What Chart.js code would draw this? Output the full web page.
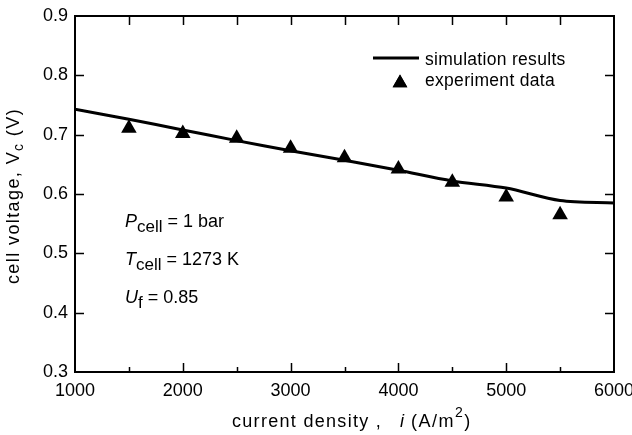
<!DOCTYPE html>
<html>
<head>
<meta charset="utf-8">
<script src="https://cdn.jsdelivr.net/npm/chart.js@4"></script>
<style>
  html, body { margin: 0; padding: 0; background: #fff; }
  #wrap { width: 632px; height: 435px; }
</style>
</head>
<body>
<div id="wrap"><canvas id="cellChart"></canvas></div>
<script>
// values
const simCurrent = [1000, 1500, 2000, 2500, 3000, 3500, 4000, 4500, 5000, 5500, 6000];
const simVoltage = [0.743, 0.726, 0.708, 0.690, 0.673, 0.657, 0.640, 0.622, 0.610, 0.589, 0.585];
const expCurrent = [1500, 2000, 2500, 3000, 3500, 4000, 4500, 5000, 5500];
const expVoltage = [0.711, 0.702, 0.694, 0.677, 0.661, 0.642, 0.620, 0.595, 0.565];
const xMinorTicks = [1500, 2000, 2500, 3000, 3500, 4000, 4500, 5000, 5500];
const yTicks = [0.4, 0.5, 0.6, 0.7, 0.8];

const FONT = '"Liberation Sans", Arial, sans-serif';

function spacedText(ctx, text, x, y, sp) {
  for (const ch of text) {
    ctx.fillText(ch, x, y);
    x += ctx.measureText(ch).width + sp;
  }
  return x;
}

function spacedWidth(ctx, text, sp) {
  let w = 0;
  for (const ch of text) w += ctx.measureText(ch).width + sp;
  return w;
}

// frame, inward ticks, legend, annotations and axis titles
const decorations = {
  id: "decorations",
  afterDraw(chart) {
    const { ctx, chartArea: a } = chart;
    const x = chart.scales.x;
    const y = chart.scales.y;
    ctx.save();
    ctx.strokeStyle = "#000";
    ctx.fillStyle = "#000";
    ctx.lineWidth = 2;
    ctx.strokeRect(a.left, a.top, a.right - a.left, a.bottom - a.top);

    ctx.lineWidth = 1.5;
    ctx.beginPath();
    xMinorTicks.forEach((v) => {
      const px = Math.round(x.getPixelForValue(v)) + 0.5;
      const len = v % 1000 ? 5 : 9;
      ctx.moveTo(px, a.bottom);
      ctx.lineTo(px, a.bottom - len);
      ctx.moveTo(px, a.top);
      ctx.lineTo(px, a.top + 9);
    });
    yTicks.forEach((v) => {
      const py = Math.round(y.getPixelForValue(v)) + 0.5;
      ctx.moveTo(a.left, py);
      ctx.lineTo(a.left + 9, py);
      ctx.moveTo(a.right, py);
      ctx.lineTo(a.right - 9, py);
    });
    ctx.stroke();

    // legend
    ctx.lineWidth = 3;
    ctx.beginPath();
    ctx.moveTo(373, 58);
    ctx.lineTo(419, 58);
    ctx.stroke();
    Chart.helpers.drawPoint(ctx, { pointStyle: "triangle", radius: 8.5, rotation: 0, borderWidth: 0 }, 400, 83);
    ctx.fill();
    ctx.font = "17.5px " + FONT;
    ctx.textBaseline = "alphabetic";
    ctx.textAlign = "left";
    spacedText(ctx, "simulation results", 425, 64.5, 0.3);
    spacedText(ctx, "experiment data", 425, 86, 0.3);

    // operating conditions
    const notes = [
      ["P", "cell", " = 1 bar", 227],
      ["T", "cell", " = 1273 K", 265],
      ["U", "f", " = 0.85", 303],
    ];
    notes.forEach(([sym, sub, rest, base]) => {
      let cx = 125;
      ctx.font = "italic 18px " + FONT;
      ctx.fillText(sym, cx, base);
      cx += ctx.measureText(sym).width;
      ctx.font = "17px " + FONT;
      ctx.fillText(sub, cx, base + 5);
      cx += ctx.measureText(sub).width;
      ctx.font = "18px " + FONT;
      ctx.fillText(rest, cx, base);
    });

    // x axis title
    ctx.font = "18px " + FONT;
    spacedText(ctx, "current density ,", 232, 427, 1.3);
    ctx.font = "italic 18px " + FONT;
    ctx.fillText("i", 400, 427);
    ctx.font = "18px " + FONT;
    let tx = spacedText(ctx, "(A/m", 411, 427, 1.5);
    ctx.font = "14px " + FONT;
    ctx.fillText("2", tx, 417);
    tx += ctx.measureText("2").width + 1.5;
    ctx.font = "18px " + FONT;
    ctx.fillText(")", tx, 427);

    // y axis title
    ctx.translate(19, 196);
    ctx.rotate(-Math.PI / 2);
    const sp = 1.4;
    ctx.font = "18px " + FONT;
    const p1 = "cell voltage, V";
    const p3 = " (V)";
    const w1 = spacedWidth(ctx, p1, sp);
    const w3 = spacedWidth(ctx, p3, sp);
    ctx.font = "14px " + FONT;
    const w2 = spacedWidth(ctx, "c", sp);
    let sx = -(w1 + w2 + w3) / 2;
    ctx.font = "18px " + FONT;
    sx = spacedText(ctx, p1, sx, 0, sp);
    ctx.font = "14px " + FONT;
    sx = spacedText(ctx, "c", sx, 4, sp);
    ctx.font = "18px " + FONT;
    spacedText(ctx, p3, sx, 0, sp);
    ctx.restore();
  },
};

const simPoints = simCurrent.map((c, i) => ({ x: c, y: simVoltage[i] }));
const expPoints = expCurrent.map((c, i) => ({ x: c, y: expVoltage[i] }));

new Chart(document.getElementById("cellChart"), {
  type: "scatter",
  data: {
    datasets: [
      {
        label: "simulation results",
        data: simPoints,
        showLine: true,
        borderColor: "#000",
        borderWidth: 3,
        pointRadius: 0,
        tension: 0.3,
      },
      {
        label: "experiment data",
        data: expPoints,
        showLine: false,
        pointStyle: "triangle",
        pointRadius: 9,
        backgroundColor: "#000",
        borderColor: "#000",
        borderWidth: 0,
      },
    ],
  },
  options: {
    responsive: true,
    maintainAspectRatio: false,
    animation: false,
    layout: { padding: { top: 16, right: 18, left: 0, bottom: 0 } },
    plugins: { legend: { display: false }, tooltip: { enabled: false } },
    scales: {
      x: {
        type: "linear",
        min: 1000,
        max: 6000,
        grid: { display: false, drawTicks: false },
        border: { display: false },
        ticks: {
          stepSize: 1000,
          padding: 8,
          color: "#000",
          font: { size: 18, family: FONT },
          maxRotation: 0,
          callback: (v) => String(v),
        },
        afterFit(scale) {
          scale.height = 63;
          scale.paddingLeft = 0;
          scale.paddingRight = 0;
        },
      },
      y: {
        min: 0.3,
        max: 0.9,
        grid: { display: false, drawTicks: false },
        border: { display: false },
        ticks: {
          stepSize: 0.1,
          padding: 7,
          color: "#000",
          font: { size: 18, family: FONT },
          callback: (v) => v.toFixed(1),
        },
        afterFit(scale) {
          scale.width = 75;
          scale.paddingTop = 0;
          scale.paddingBottom = 0;
        },
      },
    },
  },
  plugins: [decorations],
});
</script>
</body>
</html>
